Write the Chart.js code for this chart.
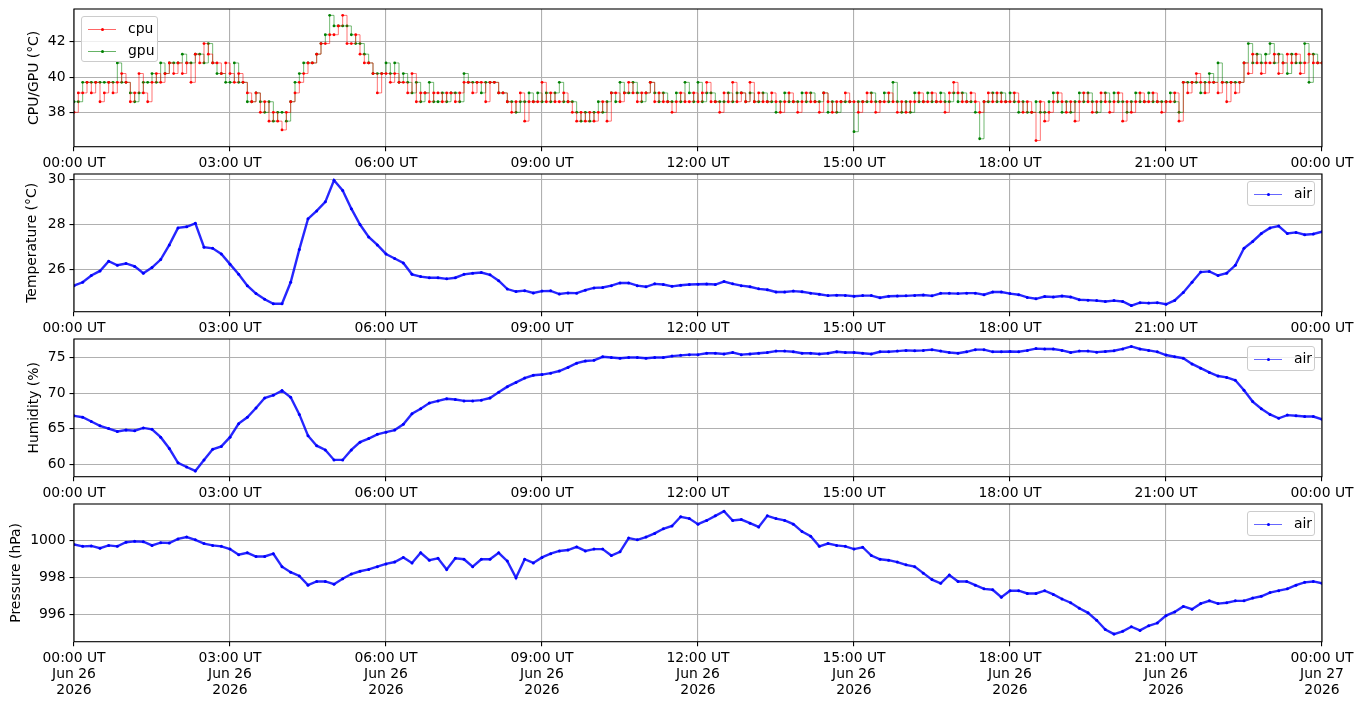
<!DOCTYPE html>
<html><head><meta charset="utf-8">
<script src="https://cdn.jsdelivr.net/npm/chart.js@4.4.1/dist/chart.umd.min.js"></script>
<style>
html,body{margin:0;padding:0;background:#fff;}
#wrap{position:relative;width:1363px;height:707px;overflow:hidden;font-family:'DejaVu Sans',sans-serif;}
#wrap canvas{position:absolute;left:0;}
.lg{position:absolute;background:rgba(255,255,255,0.8);border:1px solid #cccccc;border-radius:3px;box-sizing:border-box;font-size:13.9px;color:#000;}
.lg .it{position:absolute;left:0;right:0;height:16px;}
.lg .ln{position:absolute;left:6px;width:28px;top:7.5px;height:1px;}
.lg .dt{position:absolute;left:18.5px;top:6.5px;width:3px;height:3px;border-radius:50%;}
.lg .tx{position:absolute;left:46px;top:-1px;line-height:16px;white-space:nowrap;}
</style>
</head><body>
<div id="wrap">
<canvas id="c1" width="1363" height="170" style="top:0px"></canvas>
<canvas id="c2" width="1363" height="170" style="top:165px"></canvas>
<canvas id="c3" width="1363" height="170" style="top:330px"></canvas>
<canvas id="c4" width="1363" height="212" style="top:495px"></canvas>
<div class="lg" style="left:81px;top:16px;width:77px;height:46px;">
  <div class="it" style="top:4px"><div class="ln" style="background:rgba(255,0,0,0.6)"></div><div class="dt" style="background:#ff0000"></div><div class="tx">cpu</div></div>
  <div class="it" style="top:26px"><div class="ln" style="background:rgba(0,128,0,0.6)"></div><div class="dt" style="background:#008000"></div><div class="tx">gpu</div></div>
</div>
<div class="lg" style="left:1247px;top:181px;width:68px;height:25px;">
  <div class="it" style="top:4px"><div class="ln" style="background:rgba(0,0,255,0.6)"></div><div class="dt" style="background:#0000ff"></div><div class="tx">air</div></div>
</div>
<div class="lg" style="left:1247px;top:346px;width:68px;height:25px;">
  <div class="it" style="top:4px"><div class="ln" style="background:rgba(0,0,255,0.6)"></div><div class="dt" style="background:#0000ff"></div><div class="tx">air</div></div>
</div>
<div class="lg" style="left:1247px;top:511px;width:68px;height:25px;">
  <div class="it" style="top:4px"><div class="ln" style="background:rgba(0,0,255,0.6)"></div><div class="dt" style="background:#0000ff"></div><div class="tx">air</div></div>
</div>
</div>
<script>
// ---- tick labels ----
const xTickHours = [0, 3, 6, 9, 12, 15, 18, 21, 24];
const xTickTimes = ['00:00 UT','03:00 UT','06:00 UT','09:00 UT','12:00 UT','15:00 UT','18:00 UT','21:00 UT','00:00 UT'];
const xTickDays  = ['Jun 26','Jun 26','Jun 26','Jun 26','Jun 26','Jun 26','Jun 26','Jun 26','Jun 27'];
const xTickYears = ['2026','2026','2026','2026','2026','2026','2026','2026','2026'];
const cpuTicks = [38, 40, 42];
const tempTicks = [26, 28, 30];
const humTicks = [60, 65, 70, 75];
const presTicks = [996, 998, 1000];

// ---- sampling (minutes between samples, from 00:00 UT) ----
const cpuStepMinutes = 5;
const airStepMinutes = 10;

// ---- CPU / GPU temperature (°C), every 5 minutes ----
const cpuTemp = [
 38.0,39.1,39.1,39.7,39.1,39.7,38.6,39.1,39.7,39.1,39.7,40.2,
 39.7,38.6,39.1,40.2,39.1,38.6,39.7,40.2,39.7,40.2,40.8,40.2,
 40.8,40.2,40.8,39.7,41.3,40.8,41.9,41.3,40.8,40.8,40.2,40.8,
 40.2,39.7,40.2,39.7,39.1,38.6,39.1,38.0,38.6,37.5,38.0,37.5,
 37.0,38.0,38.6,39.1,39.7,40.2,40.8,40.8,41.3,41.9,41.9,42.4,
 42.4,42.9,43.5,41.9,41.9,42.4,41.3,40.8,40.8,40.2,39.1,40.2,
 40.2,39.7,40.2,39.7,39.7,39.1,40.2,38.6,39.1,39.1,38.6,39.1,
 39.1,38.6,39.1,39.1,38.6,39.1,39.7,39.7,39.1,39.7,39.7,38.6,
 39.7,39.7,39.1,39.1,38.6,38.0,38.6,39.1,37.5,38.6,38.6,38.6,
 39.7,38.6,39.1,38.6,38.6,39.1,38.6,38.0,37.5,38.0,37.5,38.0,
 37.5,38.0,38.6,37.5,39.1,39.1,38.6,39.1,39.7,39.1,38.6,39.1,
 39.1,39.7,38.6,39.1,38.6,38.6,38.0,38.6,39.1,38.6,38.6,39.1,
 38.6,39.1,39.7,38.6,38.6,38.0,39.1,38.6,39.7,38.6,39.1,38.6,
 39.7,38.6,39.1,38.6,38.6,39.1,38.6,38.0,38.6,39.1,38.6,38.0,
 38.6,39.1,38.6,38.6,38.0,39.1,38.6,38.0,38.6,38.6,39.1,38.6,
 38.6,38.0,38.6,39.1,38.6,38.0,38.6,38.6,39.1,38.6,38.0,38.6,
 38.0,38.6,38.6,39.1,38.6,38.6,39.1,38.6,38.6,38.0,39.1,39.7,
 39.1,38.6,38.6,39.1,38.6,38.0,38.6,39.1,38.6,39.1,38.6,38.6,
 38.6,39.1,38.6,38.0,38.6,38.0,36.4,38.6,37.5,38.0,38.6,39.1,
 38.6,38.0,38.6,37.5,38.6,39.1,38.6,38.0,38.6,39.1,38.6,38.0,
 38.6,39.1,37.5,38.6,38.0,38.6,39.1,38.6,38.6,39.1,38.6,38.0,
 38.6,38.6,39.1,37.5,39.7,39.1,39.7,40.2,39.7,39.1,39.7,39.7,
 39.1,39.7,38.6,39.7,39.1,39.7,40.8,40.2,41.3,40.8,40.2,40.8,
 40.8,41.3,40.2,40.8,41.3,40.8,41.3,40.2,40.8,41.3,40.8,40.8,
 40.8
];
const gpuTemp = [
 38.6,38.6,39.7,39.7,39.7,39.7,39.7,39.7,39.7,39.7,40.8,39.7,
 39.7,39.1,38.6,39.1,39.7,39.7,40.2,39.7,40.8,40.2,40.8,40.8,
 40.8,41.3,40.8,40.8,41.3,41.3,40.8,41.9,40.8,40.2,40.2,39.7,
 39.7,40.8,39.7,39.7,38.6,38.6,39.1,38.6,38.0,38.6,37.5,38.0,
 38.0,37.5,38.6,39.7,40.2,40.8,40.8,40.8,41.3,41.9,42.4,43.5,
 42.9,42.9,42.9,42.9,42.4,41.9,41.9,41.3,40.8,40.2,40.2,40.2,
 40.8,40.2,40.8,39.7,40.2,39.7,39.1,39.7,38.6,39.1,39.7,38.6,
 38.6,39.1,38.6,39.1,39.1,38.6,40.2,39.7,39.7,39.7,39.1,39.7,
 39.7,39.7,39.1,39.1,38.6,38.6,38.0,38.6,38.6,39.1,38.6,39.1,
 38.6,39.1,38.6,39.1,39.7,38.6,38.6,38.6,38.0,37.5,38.0,37.5,
 38.0,38.6,38.0,38.6,39.1,38.6,39.7,39.1,39.1,39.7,39.1,38.6,
 39.1,39.7,39.1,38.6,39.1,38.6,38.6,39.1,38.6,39.7,39.1,38.6,
 39.7,38.6,39.1,39.1,38.6,38.6,38.6,39.1,38.6,39.1,39.1,38.6,
 39.1,38.6,38.6,39.1,38.6,38.6,38.0,38.6,39.1,38.6,38.6,38.6,
 39.1,38.6,39.1,38.6,38.6,39.1,38.0,38.6,38.0,38.6,38.6,38.6,
 36.9,38.6,38.6,38.6,39.1,38.6,38.6,39.1,38.6,39.7,38.6,38.0,
 38.6,38.0,39.1,38.6,38.6,39.1,38.6,38.6,39.1,38.6,38.6,39.1,
 38.6,39.1,38.6,38.6,38.0,36.5,38.6,38.6,39.1,38.6,39.1,38.6,
 39.1,38.6,38.0,38.6,38.0,38.0,38.6,38.0,38.0,38.6,39.1,38.6,
 38.0,38.6,38.0,38.6,39.1,38.6,39.1,38.6,38.0,38.6,39.1,38.6,
 39.1,38.6,38.6,38.0,38.6,39.1,38.6,38.6,39.1,38.6,38.6,38.6,
 38.6,39.1,38.6,38.0,39.7,39.7,39.7,39.7,39.1,39.7,40.2,39.7,
 40.8,39.7,39.7,39.7,39.7,39.7,40.8,41.9,40.8,41.3,40.8,41.3,
 41.9,40.8,41.3,40.8,40.2,41.3,40.8,40.8,41.9,39.7,41.3,40.8,
 40.8
];

// ---- air temperature (°C), every 10 minutes ----
const airTemp = [
 25.30,25.45,25.75,25.95,26.38,26.20,26.28,26.15,25.85,26.10,26.45,27.10,
 27.85,27.90,28.05,27.00,26.95,26.70,26.25,25.80,25.30,24.95,24.70,24.50,
 24.50,25.45,26.90,28.25,28.60,29.00,29.95,29.50,28.70,28.00,27.45,27.10,
 26.70,26.50,26.30,25.80,25.70,25.65,25.65,25.60,25.65,25.80,25.85,25.88,
 25.78,25.52,25.15,25.04,25.08,24.98,25.06,25.07,24.93,24.98,24.97,25.10,
 25.20,25.22,25.30,25.42,25.42,25.30,25.25,25.38,25.35,25.27,25.32,25.35,
 25.36,25.37,25.35,25.48,25.38,25.30,25.25,25.16,25.12,25.02,25.02,25.06,
 25.03,24.97,24.92,24.86,24.88,24.87,24.83,24.86,24.86,24.77,24.83,24.84,
 24.85,24.87,24.89,24.85,24.96,24.96,24.95,24.97,24.97,24.90,25.02,25.02,
 24.95,24.90,24.78,24.72,24.82,24.80,24.84,24.80,24.68,24.66,24.64,24.60,
 24.64,24.60,24.42,24.55,24.53,24.55,24.48,24.65,25.00,25.45,25.90,25.93,
 25.75,25.85,26.20,26.95,27.25,27.60,27.85,27.93,27.60,27.65,27.55,27.58,
 27.68
];

// ---- air humidity (%), every 10 minutes ----
const airHumidity = [
 66.8,66.6,66.0,65.4,65.0,64.6,64.8,64.7,65.1,64.9,63.8,62.2,
 60.2,59.6,59.05,60.6,62.1,62.5,63.8,65.7,66.6,67.9,69.3,69.7,
 70.35,69.4,67.0,64.0,62.6,62.0,60.6,60.6,62.0,63.1,63.6,64.2,
 64.5,64.8,65.6,67.1,67.8,68.6,68.9,69.2,69.1,68.9,68.9,69.0,
 69.3,70.1,70.9,71.5,72.1,72.5,72.6,72.8,73.1,73.6,74.2,74.5,
 74.6,75.1,75.0,74.9,75.0,75.0,74.9,75.0,75.0,75.2,75.3,75.4,
 75.4,75.6,75.6,75.5,75.7,75.4,75.5,75.6,75.7,75.9,75.9,75.8,
 75.6,75.6,75.5,75.6,75.8,75.7,75.7,75.6,75.5,75.8,75.8,75.9,
 76.0,75.95,76.0,76.1,75.9,75.7,75.6,75.8,76.1,76.1,75.8,75.8,
 75.85,75.8,76.0,76.25,76.2,76.2,76.0,75.7,75.9,75.9,75.75,75.85,
 75.95,76.2,76.55,76.2,76.0,75.8,75.35,75.1,74.9,74.1,73.5,72.9,
 72.4,72.2,71.8,70.4,68.8,67.8,67.0,66.45,66.9,66.8,66.7,66.7,
 66.3
];

// ---- air pressure (hPa), every 10 minutes ----
const airPressure = [
 999.80,999.70,999.72,999.60,999.75,999.70,999.92,999.97,999.95,999.75,999.90,999.88,
 1000.10,1000.20,1000.05,999.85,999.75,999.70,999.55,999.25,999.35,999.15,999.15,999.30,
 998.60,998.30,998.10,997.60,997.80,997.80,997.65,997.95,998.20,998.35,998.45,998.60,
 998.75,998.85,999.10,998.80,999.35,998.95,999.05,998.45,999.05,999.00,998.60,999.00,
 999.00,999.35,998.90,998.00,999.00,998.80,999.10,999.30,999.45,999.50,999.67,999.45,
 999.55,999.55,999.20,999.40,1000.15,1000.05,1000.20,1000.40,1000.65,1000.80,1001.30,1001.20,
 1000.90,1001.10,1001.35,1001.60,1001.10,1001.15,1000.95,1000.75,1001.35,1001.20,1001.10,1000.90,
 1000.50,1000.25,999.70,999.85,999.75,999.70,999.55,999.65,999.20,999.00,998.95,998.85,
 998.70,998.60,998.25,997.90,997.70,998.15,997.80,997.80,997.60,997.40,997.35,996.95,
 997.30,997.30,997.15,997.15,997.30,997.10,996.85,996.65,996.35,996.10,995.70,995.20,
 994.95,995.10,995.35,995.15,995.40,995.55,995.95,996.15,996.45,996.30,996.60,996.75,
 996.60,996.65,996.75,996.75,996.90,997.00,997.20,997.30,997.40,997.60,997.75,997.80,
 997.70
];

// ---------------- rendering ----------------
const FONT = {family: "'DejaVu Sans'", size: 13.9, lineHeight: 1.15};
const toXY = (arr, stepMin) => arr.map((v, i) => ({x: i * stepMin / 60, y: v}));

const framePlugin = {
  id: 'frame',
  afterDatasetsDraw(chart) {
    const a = chart.chartArea, ctx = chart.ctx;
    ctx.save();
    ctx.strokeStyle = '#000';
    ctx.lineWidth = 1.1;
    ctx.strokeRect(a.left, a.top, a.right - a.left, a.bottom - a.top);
    ctx.restore();
  }
};

function lineDs(label, arr, stepMin, lineColor, dotColor, opts) {
  return Object.assign({
    label: label,
    data: toXY(arr, stepMin),
    borderColor: lineColor,
    backgroundColor: dotColor,
    pointBackgroundColor: dotColor,
    pointBorderWidth: 0,
    pointRadius: 1.4,
    pointHoverRadius: 1.4,
    borderWidth: 1,
    fill: false,
    tension: 0
  }, opts || {});
}

function makeChart(id, datasets, yTicks, yMin, yMax, yTitle, titlePad, bottomLabels, xAxisH) {
  return new Chart(document.getElementById(id), {
    type: 'line',
    data: {datasets: datasets},
    plugins: [framePlugin],
    options: {
      responsive: false,
      animation: false,
      events: [],
      layout: {padding: {top: 9, right: 41, left: 0, bottom: 0}},
      plugins: {legend: {display: false}, tooltip: {enabled: false}},
      scales: {
        x: {
          type: 'linear', min: 0, max: 24,
          afterBuildTicks: s => { s.ticks = xTickHours.map(v => ({value: v})); },
          afterFit: s => { s.height = xAxisH; s.paddingLeft = 0; s.paddingRight = 0; },
          ticks: {
            autoSkip: false, maxRotation: 0, color: '#000', font: FONT, padding: 4,
            includeBounds: false,
            callback: (v) => {
              const i = xTickHours.indexOf(v);
              if (i < 0) return '';
              return bottomLabels ? [xTickTimes[i], xTickDays[i], xTickYears[i]] : xTickTimes[i];
            }
          },
          grid: {color: '#b0b0b0', lineWidth: 1.1, tickColor: '#000', tickLength: 4.5, tickWidth: 1.1},
          border: {display: false}
        },
        y: {
          type: 'linear', min: yMin, max: yMax,
          afterBuildTicks: s => { s.ticks = yTicks.map(v => ({value: v})); },
          afterFit: s => { s.width = 74; s.paddingTop = 0; s.paddingBottom = 0; },
          ticks: {color: '#000', font: FONT, padding: 4, includeBounds: false, callback: v => String(v)},
          grid: {color: '#b0b0b0', lineWidth: 1.1, tickColor: '#000', tickLength: 4.5, tickWidth: 1.1},
          border: {display: false},
          title: {display: true, text: yTitle, color: '#000', font: {family: "'DejaVu Sans'", size: 13.9, lineHeight: 1.2}, padding: {top: titlePad, bottom: 0}}
        }
      }
    }
  });
}

const stepOpts = {stepped: true};
makeChart('c1', [
  lineDs('cpu', cpuTemp, cpuStepMinutes, 'rgba(255,0,0,0.55)', '#ff0000', stepOpts),
  lineDs('gpu', gpuTemp, cpuStepMinutes, 'rgba(0,128,0,0.55)', '#008000', stepOpts)
], cpuTicks, 36.05, 43.86, 'CPU/GPU (°C)', 26, false, 23.3);

const airOpts = {borderWidth: 2.4, pointRadius: 1.5, pointHoverRadius: 1.5};
makeChart('c2', [lineDs('air', airTemp, airStepMinutes, 'rgba(0,0,255,0.85)', '#0000ff', airOpts)],
  tempTicks, 24.15, 30.23, 'Temperature (°C)', 24.5, false, 23.3);
makeChart('c3', [lineDs('air', airHumidity, airStepMinutes, 'rgba(0,0,255,0.85)', '#0000ff', airOpts)],
  humTicks, 58.24, 77.6, 'Humidity (%)', 26, false, 23.3);
makeChart('c4', [lineDs('air', airPressure, airStepMinutes, 'rgba(0,0,255,0.85)', '#0000ff', airOpts)],
  presTicks, 994.54, 1001.99, 'Pressure (hPa)', 8, true, 65.3);
</script>
</body></html>
